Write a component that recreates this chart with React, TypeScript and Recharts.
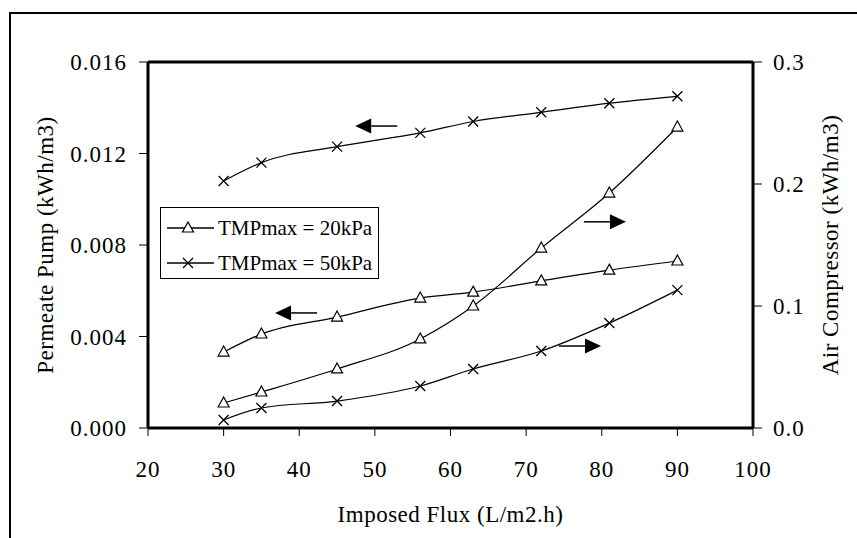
import { LineChart, Line, XAxis, YAxis, ReferenceLine, ReferenceDot, Legend } from 'recharts'

const FONT = '"Liberation Serif", "Times New Roman", serif'

// imposed flux (L/m2.h)
const flux = [30, 35, 45, 56, 63, 72, 81, 90]
// permeate pump energy (kWh/m3), left axis
const permeate20 = [0.00332, 0.00411, 0.00485, 0.00568, 0.00594, 0.00643, 0.0069, 0.0073]
const permeate50 = [0.0108, 0.0116, 0.0123, 0.0129, 0.0134, 0.0138, 0.0142, 0.0145]
// air compressor energy (kWh/m3), right axis
const air20 = [0.0205, 0.0295, 0.0484, 0.073, 0.1, 0.1475, 0.1926, 0.2467]
const air50 = [0.0066, 0.0164, 0.0221, 0.0344, 0.0484, 0.0631, 0.086, 0.113]

const xTicks = [20, 30, 40, 50, 60, 70, 80, 90, 100]
const leftTicks = [0, 0.004, 0.008, 0.012, 0.016]
const rightTicks = [0, 0.1, 0.2, 0.3]
const legendNames = ['TMPmax = 20kPa', 'TMPmax = 50kPa']

// arrows telling which axis a curve belongs to (tip position)
const arrowX = [47.4, 36.8, 83.2, 79.9]
const arrowY = [0.0132, 0.00503, 0.169, 0.0672]
const arrowAxis = ['left', 'left', 'right', 'right']
const arrowDir = [-1, -1, 1, 1]

const data = flux.map((f, i) => ({
  flux: f,
  p20: permeate20[i],
  p50: permeate50[i],
  a20: air20[i],
  a50: air50[i],
}))

function Tri({ cx, cy }: { cx: number; cy: number }) {
  return (
    <path
      d={`M${cx},${cy - 6}L${cx + 5.5},${cy + 4}L${cx - 5.5},${cy + 4}Z`}
      fill="#fff"
      stroke="#000"
      strokeWidth={1.2}
    />
  )
}

function Cross({ cx, cy }: { cx: number; cy: number }) {
  return (
    <path
      d={`M${cx - 5},${cy - 5}L${cx + 5},${cy + 5}M${cx + 5},${cy - 5}L${cx - 5},${cy + 5}`}
      stroke="#000"
      strokeWidth={1.3}
      fill="none"
    />
  )
}

const triDot = (p: any) => <Tri key={`t${p.index}`} cx={p.cx} cy={p.cy} />
const crossDot = (p: any) => <Cross key={`c${p.index}`} cx={p.cx} cy={p.cy} />

function Arrow(dir: number) {
  return (p: any) => {
    const { cx, cy } = p
    const head = 16
    const tail = 26
    const b = cx - dir * head
    return (
      <g>
        <line x1={b} y1={cy} x2={b - dir * tail} y2={cy} stroke="#000" strokeWidth={1.5} />
        <path d={`M${cx},${cy}L${b},${cy - 7.5}L${b},${cy + 7.5}Z`} fill="#000" />
      </g>
    )
  }
}

function LegendBox() {
  return (
    <svg width={219} height={72} style={{ display: 'block' }}>
      <rect x={0.5} y={0.5} width={218} height={71} fill="#fff" stroke="#000" strokeWidth={1} />
      {legendNames.map((n, i) => {
        const y = 21 + i * 35
        return (
          <g key={n}>
            <line x1={7} y1={y} x2={54} y2={y} stroke="#000" strokeWidth={1.3} />
            {i === 0 ? <Tri cx={28} cy={y} /> : <Cross cx={28} cy={y} />}
            <text
              x={58}
              y={y}
              dominantBaseline="central"
              fontSize={21}
              fontFamily={FONT}
              fill="#000"
            >
              {n}
            </text>
          </g>
        )
      })}
    </svg>
  )
}

const tickStyle = { fill: '#000', fontSize: 23, fontFamily: FONT, letterSpacing: 1 }
const labelStyle = { fill: '#000', fontSize: 23, fontFamily: FONT, letterSpacing: 0.5 }

export default function App() {
  return (
    <div style={{ position: 'absolute', left: 0, top: 0, width: 857, height: 538, overflow: 'hidden', background: '#fff' }}>
      <div
        style={{
          position: 'absolute', left: 9, top: 12, width: 900, height: 600,
          borderLeft: '2px solid #000', borderTop: '2px solid #000',
        }}
      />
      <LineChart width={857} height={538} data={data} margin={{ top: 62, right: 20, bottom: 10, left: 20 }}>
        <XAxis
          dataKey="flux"
          type="number"
          domain={[20, 100]}
          ticks={xTicks}
          height={100}
          axisLine={{ stroke: '#000', strokeWidth: 3 }}
          tickLine={{ stroke: '#000' }}
          tickSize={8}
          tickMargin={25}
          tick={tickStyle}
          label={{ value: 'Imposed Flux (L/m2.h)', position: 'insideBottom', offset: 6, ...labelStyle }}
        />
        <YAxis
          yAxisId="left"
          domain={[0, 0.016]}
          ticks={leftTicks}
          width={128}
          tickFormatter={(v: number) => v.toFixed(3)}
          axisLine={{ stroke: '#000', strokeWidth: 3 }}
          tickLine={{ stroke: '#000' }}
          tickSize={9}
          tickMargin={12}
          tick={tickStyle}
          label={{
            value: 'Permeate Pump (kWh/m3)', angle: -90, position: 'insideLeft', offset: 25,
            ...labelStyle, style: { textAnchor: 'middle' },
          }}
        />
        <YAxis
          yAxisId="right"
          orientation="right"
          domain={[0, 0.3]}
          ticks={rightTicks}
          width={84}
          tickFormatter={(v: number) => v.toFixed(1)}
          axisLine={{ stroke: '#000', strokeWidth: 3 }}
          tickLine={{ stroke: '#000' }}
          tickSize={9}
          tickMargin={11}
          tick={tickStyle}
          label={{
            value: 'Air Compressor (kWh/m3)', angle: -90, position: 'insideRight', offset: 7,
            ...labelStyle, style: { textAnchor: 'middle' },
          }}
        />
        <ReferenceLine yAxisId="left" y={leftTicks[leftTicks.length - 1]} stroke="#000" strokeWidth={3} />
        <Line yAxisId="left" dataKey="p50" type="monotone" stroke="#000" strokeWidth={1.2} dot={crossDot} isAnimationActive={false} />
        <Line yAxisId="left" dataKey="p20" type="monotone" stroke="#000" strokeWidth={1.2} dot={triDot} isAnimationActive={false} />
        <Line yAxisId="right" dataKey="a20" type="monotone" stroke="#000" strokeWidth={1.2} dot={triDot} isAnimationActive={false} />
        <Line yAxisId="right" dataKey="a50" type="monotone" stroke="#000" strokeWidth={1.2} dot={crossDot} isAnimationActive={false} />
        {arrowX.map((x, i) => (
          <ReferenceDot
            key={`arrow${i}`}
            x={x}
            y={arrowY[i]}
            yAxisId={arrowAxis[i]}
            r={0}
            shape={Arrow(arrowDir[i])}
          />
        ))}
        <Legend
          layout="vertical"
          align="center"
          verticalAlign="middle"
          content={() => <LegendBox />}
          wrapperStyle={{ position: 'absolute', left: 160, top: 207, width: 219, height: 72 }}
        />
      </LineChart>
    </div>
  )
}
